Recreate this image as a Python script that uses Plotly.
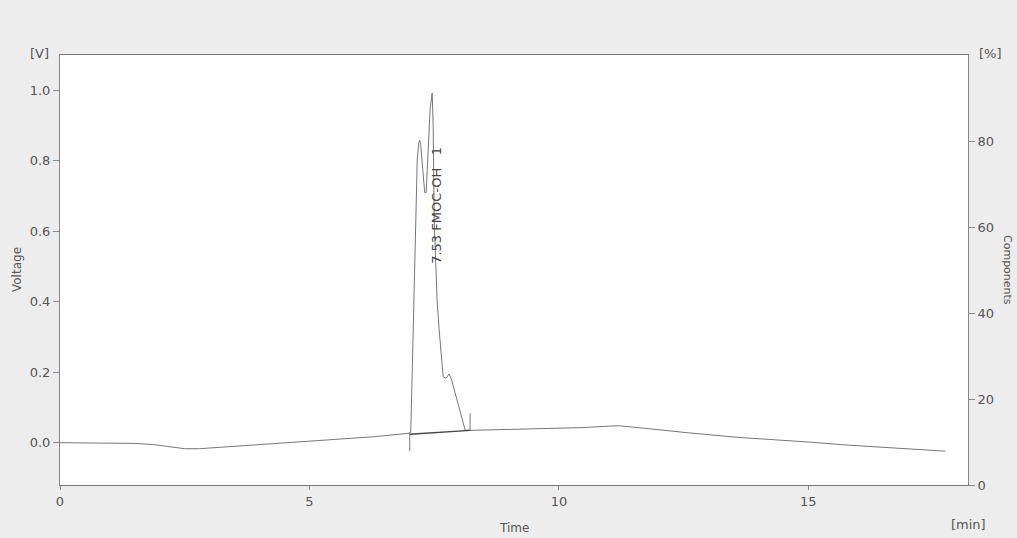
import plotly.graph_objects as go

# Chromatogram: time [min] and voltage [V]
time_min = [0.0, 0.5, 1.0, 1.5, 1.85, 2.2, 2.5, 2.8, 3.5, 4.2, 4.7, 5.5, 6.3, 7.0,
            7.03, 7.06, 7.08, 7.11, 7.13, 7.16, 7.19, 7.21, 7.23, 7.27, 7.31, 7.34,
            7.38, 7.42, 7.46, 7.48, 7.50, 7.52, 7.56, 7.60, 7.65, 7.68, 7.74, 7.80,
            7.85, 7.98, 8.12, 8.22, 9.0, 9.9, 10.5, 11.0, 11.2, 11.5, 12.0, 12.6,
            13.6, 14.5, 15.0, 15.8, 16.5, 17.2, 17.75]
voltage_v = [0.0, 0.0, -0.001, -0.002, -0.005, -0.012, -0.017, -0.017, -0.010, -0.004, 0.0, 0.008, 0.017, 0.027,
             0.030, 0.20, 0.32, 0.55, 0.65, 0.80, 0.85, 0.858, 0.845, 0.77, 0.71, 0.71,
             0.82, 0.95, 0.992, 0.90, 0.63, 0.546, 0.40, 0.32, 0.23, 0.187, 0.183, 0.195,
             0.178, 0.107, 0.036, 0.035, 0.037, 0.040, 0.043, 0.047, 0.048, 0.044, 0.036, 0.028,
             0.015, 0.008, 0.002, -0.007, -0.013, -0.019, -0.024]

# Peak integration markers
peak_start_t = [7.01, 7.01]
peak_start_v = [0.03, -0.024]
peak_end_t = [8.22, 8.22]
peak_end_v = [0.035, 0.084]
int_base_t = [7.01, 8.22]
int_base_v = [0.024, 0.035]

peak_label = "7.53 FMOC-OH\u00a0\u00a0\u00a01"
peak_label_t = 7.53
peak_label_v = 0.674

x_ticks = [0, 5, 10, 15]
y_ticks = [0.0, 0.2, 0.4, 0.6, 0.8, 1.0]
y_ticktext = ["0.0", "0.2", "0.4", "0.6", "0.8", "1.0"]
y2_ticks = [0, 20, 40, 60, 80]

FONT = "DejaVu Sans"
GREY = "#555555"
LINE = "#777777"

fig = go.Figure()
fig.add_trace(go.Scatter(x=time_min, y=voltage_v, mode="lines",
                         line=dict(color=LINE, width=1), hoverinfo="skip", showlegend=False))
fig.add_trace(go.Scatter(x=int_base_t, y=int_base_v, mode="lines",
                         line=dict(color="#444444", width=1.4), hoverinfo="skip", showlegend=False))
fig.add_trace(go.Scatter(x=peak_start_t, y=peak_start_v, mode="lines",
                         line=dict(color=LINE, width=1), hoverinfo="skip", showlegend=False))
fig.add_trace(go.Scatter(x=peak_end_t, y=peak_end_v, mode="lines",
                         line=dict(color=LINE, width=1), hoverinfo="skip", showlegend=False))
# dummy trace to anchor right axis
fig.add_trace(go.Scatter(x=[None], y=[None], yaxis="y2", mode="lines",
                         hoverinfo="skip", showlegend=False))

axis_font = dict(family=FONT, size=13, color=GREY)

fig.update_layout(
    width=1017, height=538,
    margin=dict(l=60, r=49, t=55, b=53),
    paper_bgcolor="#ededed",
    plot_bgcolor="#ffffff",
    showlegend=False,
    font=dict(family=FONT, color=GREY),
    xaxis=dict(range=[0, 18.2], tickvals=x_ticks, ticks="outside", ticklen=4,
               tickcolor="#888888", showgrid=False, zeroline=False,
               showline=True, linecolor="#777777", linewidth=1.2, mirror=True,
               tickfont=axis_font),
    yaxis=dict(range=[-0.12, 1.1], tickvals=y_ticks, ticktext=y_ticktext,
               ticks="outside", ticklen=6, tickcolor="#888888",
               showgrid=False, zeroline=False, showline=True,
               linecolor="#888888", linewidth=1, tickfont=axis_font),
    yaxis2=dict(range=[0, 100], tickvals=y2_ticks, overlaying="y", side="right",
                ticks="outside", ticklen=6, tickcolor="#888888",
                showgrid=False, zeroline=False, showline=True,
                linecolor="#888888", linewidth=1, tickfont=axis_font),
)

ann_font = dict(family=FONT, size=12, color=GREY)
fig.add_annotation(text="[V]", xref="paper", yref="paper", x=0, y=1, xanchor="right",
                   yanchor="middle", xshift=-9, yshift=2, showarrow=False, font=axis_font)
fig.add_annotation(text="[%]", xref="paper", yref="paper", x=1, y=1, xanchor="left",
                   yanchor="middle", xshift=9, yshift=2, showarrow=False, font=axis_font)
fig.add_annotation(text="[min]", xref="paper", yref="paper", x=1, y=0, xanchor="center",
                   yanchor="middle", yshift=-39, showarrow=False, font=axis_font)
fig.add_annotation(text="Time", xref="paper", yref="paper", x=0.5, y=0, xanchor="center",
                   yanchor="middle", yshift=-43, showarrow=False, font=ann_font)
fig.add_annotation(text="Voltage", xref="paper", yref="paper", x=0, y=0.5, xanchor="center",
                   yanchor="middle", xshift=-43, textangle=-90, showarrow=False, font=ann_font)
fig.add_annotation(text="Components", xref="paper", yref="paper", x=1, y=0.5, xanchor="center",
                   yanchor="middle", xshift=40, textangle=90, showarrow=False,
                   font=dict(family=FONT, size=11, color=GREY))
fig.add_annotation(text=peak_label, xref="x", yref="y", x=peak_label_t, y=peak_label_v,
                   textangle=-90, showarrow=False, xanchor="center", yanchor="middle",
                   font=dict(family=FONT, size=13, color="#444444"))

fig.write_html("out.html", config={"displayModeBar": False},
               post_script="document.body.style.margin='0px';document.body.style.overflow='hidden';")
